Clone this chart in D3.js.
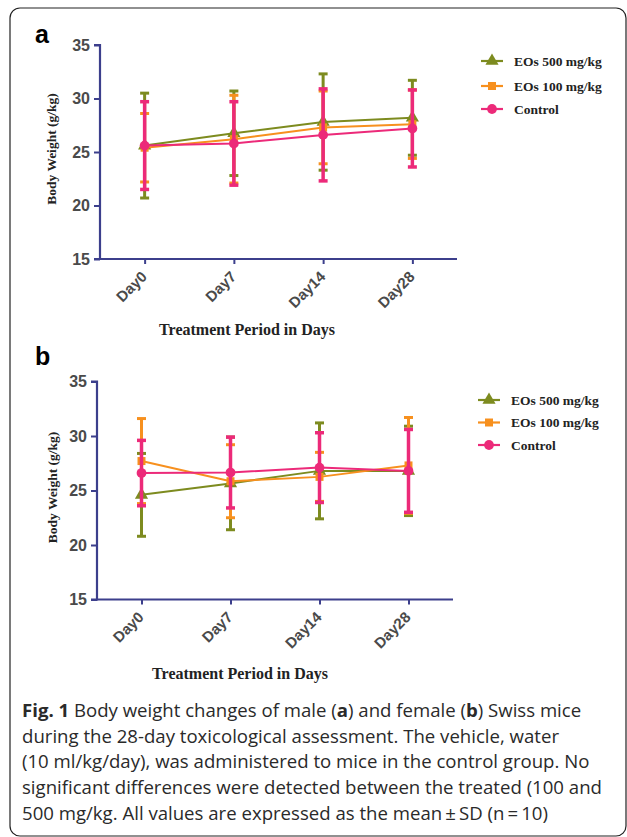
<!DOCTYPE html>
<html>
<head>
<meta charset="utf-8">
<script src="https://cdn.jsdelivr.net/npm/d3@7"></script>
<style>
  body { margin: 0; background: #fff; }
  svg { display: block; }
</style>
</head>
<body>
<div id="chartArea"></div>
<script>
///////////////////////////// DATA /////////////////////////////////////

var days = ["Day0", "Day7", "Day14", "Day28"];
var seriesNames = ["EOs 500 mg/kg", "EOs 100 mg/kg", "Control"];
var yTicks = [15, 20, 25, 30, 35];

// panel a (male)
var maleEos500Mean = [25.6, 26.75, 27.8, 28.2];
var maleEos500Sd = [4.9, 3.95, 4.5, 3.5];
var maleEos100Mean = [25.4, 26.2, 27.3, 27.6];
var maleEos100Sd = [3.2, 4.1, 3.4, 3.2];
var maleControlMean = [25.6, 25.8, 26.6, 27.2];
var maleControlSd = [4.1, 3.9, 4.3, 3.6];

// panel b (female)
var femaleEos500Mean = [24.6, 25.65, 26.8, 26.8];
var femaleEos500Sd = [3.8, 4.25, 4.4, 4.1];
var femaleEos100Mean = [27.7, 25.85, 26.25, 27.3];
var femaleEos100Sd = [3.9, 3.35, 2.25, 4.4];
var femaleControlMean = [26.6, 26.65, 27.1, 26.8];
var femaleControlSd = [3.0, 3.25, 3.2, 3.8];

var captionLines = [
    [["Fig. 1", true], [" Body weight changes of male (", false], ["a", true], [") and female (", false], ["b", true], [") Swiss mice", false]],
    [["during the 28-day toxicological assessment. The vehicle, water", false]],
    [["(10 ml/kg/day), was administered to mice in the control group. No", false]],
    [["significant differences were detected between the treated (100 and", false]],
    [["500 mg/kg. All values are expressed as the mean\u2009\u00b1\u2009SD (n\u2009=\u200910)", false]]
];

///////////////////////////// OPTIONS /////////////////////////////////////

var colors = ["#7d8b1f", "#f7901e", "#ec2a79"],
    shapes = [d3.symbolTriangle, d3.symbolSquare, d3.symbolCircle],
    shapeSize = [75, 64, 75],
    axisColor = "#3c3f8c",
    serif = "'Liberation Serif', 'Times New Roman', serif",
    sans = "'Liberation Sans', Arial, sans-serif";

var svg = d3.select("#chartArea").append("svg")
    .attr("width", 627)
    .attr("height", 837);

// frame
svg.append("rect")
    .attr("x", 10)
    .attr("y", 8)
    .attr("width", 616)
    .attr("height", 828)
    .attr("rx", 10)
    .attr("fill", "none")
    .attr("stroke", "#222")
    .attr("stroke-width", 1.2);

///////////////////////////// PANEL DRAWING /////////////////////////////////////

function drawPanel(opt) {
    var x = d3.scalePoint().domain(days).range([opt.left, opt.right]).padding(0.5),
        y = d3.scaleLinear().domain([15, 35]).range([opt.bottom, opt.top]);

    var g = svg.append("g");

    g.append("text")
        .attr("x", 35)
        .attr("y", opt.letterY)
        .style("font-family", sans)
        .style("font-weight", "bold")
        .style("font-size", "25px")
        .text(opt.letter);

    var yAxis = g.append("g")
        .attr("transform", "translate(" + opt.left + ",0)")
        .call(d3.axisLeft(y).tickValues(yTicks).tickSize(6).tickPadding(4));

    var xAxis = g.append("g")
        .attr("transform", "translate(0," + opt.bottom + ")")
        .call(d3.axisBottom(x).tickSize(5).tickSizeOuter(0));

    [xAxis, yAxis].forEach(function(a) {
        a.select(".domain").attr("stroke", axisColor).attr("stroke-width", 2.2);
        a.selectAll(".tick line").attr("stroke", axisColor).attr("stroke-width", 2);
        a.selectAll("text")
            .style("font-family", sans)
            .style("font-weight", "bold")
            .style("font-size", "16px")
            .attr("fill", "#4a4a4a");
    });
    yAxis.select(".domain").attr("d", "M-6," + opt.bottom + "H0V" + opt.top + "H-6");
    xAxis.select(".domain").attr("d", "M" + opt.left + ",0H" + opt.right);

    xAxis.selectAll(".tick text")
        .style("text-anchor", "end")
        .style("font-size", "15px")
        .attr("dx", "0")
        .attr("dy", "0")
        .attr("transform", "translate(-3,13) rotate(-45)");

    g.append("text")
        .attr("transform", "translate(" + opt.yLabelX + "," + ((opt.top + opt.bottom) / 2 - 3) + ") rotate(-90)")
        .attr("dy", "0.35em")
        .style("text-anchor", "middle")
        .style("font-family", serif)
        .style("font-weight", "bold")
        .style("font-size", "13.5px")
        .attr("fill", "#222")
        .text("Body Weight (g/kg)");

    g.append("text")
        .attr("x", opt.xTitleX)
        .attr("y", opt.xTitleY)
        .style("text-anchor", "middle")
        .style("font-family", serif)
        .style("font-weight", "bold")
        .style("font-size", "16px")
        .attr("fill", "#222")
        .text("Treatment Period in Days");

    var line = d3.line()
        .x(function(d, i) { return x(days[i]); })
        .y(function(d) { return y(d); });

    opt.means.forEach(function(means, s) {
        var sg = g.append("g").attr("class", "series");
        var sds = opt.sds[s];

        sg.append("path")
            .datum(means)
            .attr("d", line)
            .attr("fill", "none")
            .attr("stroke", colors[s])
            .attr("stroke-width", 2);

        var bars = sg.selectAll(".err").data(means).enter().append("g")
            .attr("class", "err")
            .attr("stroke", colors[s])
            .attr("stroke-width", s == 2 ? 3.5 : 3);

        bars.append("line")
            .attr("x1", function(d, i) { return x(days[i]); })
            .attr("x2", function(d, i) { return x(days[i]); })
            .attr("y1", function(d, i) { return y(d - sds[i]); })
            .attr("y2", function(d, i) { return y(d + sds[i]); });

        [1, -1].forEach(function(sign) {
            bars.append("line")
                .attr("x1", function(d, i) { return x(days[i]) - 4.5; })
                .attr("x2", function(d, i) { return x(days[i]) + 4.5; })
                .attr("y1", function(d, i) { return y(d + sign * sds[i]); })
                .attr("y2", function(d, i) { return y(d + sign * sds[i]); });
        });

        sg.selectAll(".pt").data(means).enter().append("path")
            .attr("class", "pt")
            .attr("d", d3.symbol().type(shapes[s]).size(shapeSize[s]))
            .attr("transform", function(d, i) { return "translate(" + x(days[i]) + "," + y(d) + ")"; })
            .attr("fill", colors[s]);
    });

    // legend
    var legend = g.selectAll(".legend").data(seriesNames).enter().append("g")
        .attr("class", "legend")
        .attr("transform", function(d, i) {
            return "translate(" + opt.legendX + "," + opt.legendRows[i] + ")";
        });

    legend.append("line")
        .attr("x1", 0)
        .attr("x2", 22)
        .attr("stroke", function(d, i) { return colors[i]; })
        .attr("stroke-width", 2.2);

    legend.append("path")
        .attr("d", function(d, i) { return d3.symbol().type(shapes[i]).size(shapeSize[i])(); })
        .attr("transform", "translate(11,0)")
        .attr("fill", function(d, i) { return colors[i]; });

    legend.append("text")
        .attr("x", 33)
        .attr("dy", "0.35em")
        .style("font-family", serif)
        .style("font-weight", "bold")
        .style("font-size", "13.5px")
        .attr("fill", "#222")
        .text(function(d) { return d; });
}

drawPanel({
    letter: "a", letterY: 43,
    left: 100, right: 457, top: 45, bottom: 259,
    yLabelX: 51, xTitleX: 247, xTitleY: 335,
    legendX: 481, legendRows: [61, 86, 109],
    means: [maleEos500Mean, maleEos100Mean, maleControlMean],
    sds: [maleEos500Sd, maleEos100Sd, maleControlSd]
});

drawPanel({
    letter: "b", letterY: 365,
    left: 97, right: 453, top: 381.5, bottom: 599.5,
    yLabelX: 52, xTitleX: 240, xTitleY: 679,
    legendX: 478, legendRows: [400, 422.5, 445],
    means: [femaleEos500Mean, femaleEos100Mean, femaleControlMean],
    sds: [femaleEos500Sd, femaleEos100Sd, femaleControlSd]
});

///////////////////////////// CAPTION /////////////////////////////////////

var caption = svg.append("g");
captionLines.forEach(function(parts, i) {
    var t = caption.append("text")
        .attr("x", 22)
        .attr("y", 717 + i * 25.7)
        .style("font-family", "'Open Sans', sans-serif")
        .style("font-size", "18.6px")
        .attr("fill", "#2a2a2a");
    parts.forEach(function(p) {
        t.append("tspan")
            .style("font-weight", p[1] ? "bold" : "normal")
            .text(p[0]);
    });
});
</script>
</body>
</html>
